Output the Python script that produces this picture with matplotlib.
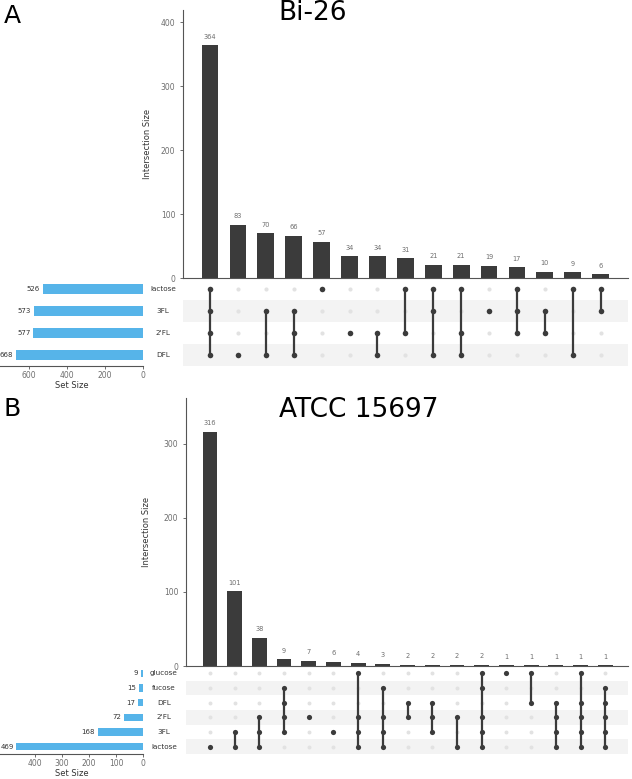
import matplotlib

matplotlib.use("Agg")
import matplotlib.pyplot as plt

W, H = 632, 779

# panel A (Bi-26)
a_sets = ["lactose", "3FL", "2'FL", "DFL"]
a_set_sizes = [526, 573, 577, 668]
a_counts = [364, 83, 70, 66, 57, 34, 34, 31, 21, 21, 19, 17, 10, 9, 6]
a_members = [
    ["lactose", "3FL", "2'FL", "DFL"],
    ["DFL"],
    ["3FL", "DFL"],
    ["3FL", "2'FL", "DFL"],
    ["lactose"],
    ["2'FL"],
    ["2'FL", "DFL"],
    ["lactose", "2'FL"],
    ["lactose", "3FL", "DFL"],
    ["lactose", "2'FL", "DFL"],
    ["3FL"],
    ["lactose", "3FL", "2'FL"],
    ["3FL", "2'FL"],
    ["lactose", "DFL"],
    ["lactose", "3FL"],
]

# panel B (ATCC 15697)
b_sets = ["glucose", "fucose", "DFL", "2'FL", "3FL", "lactose"]
b_set_sizes = [9, 15, 17, 72, 168, 469]
b_counts = [316, 101, 38, 9, 7, 6, 4, 3, 2, 2, 2, 2, 1, 1, 1, 1, 1]
b_members = [
    ["lactose"],
    ["3FL", "lactose"],
    ["2'FL", "3FL", "lactose"],
    ["fucose", "DFL", "2'FL", "3FL"],
    ["2'FL"],
    ["3FL"],
    ["glucose", "2'FL", "3FL", "lactose"],
    ["fucose", "2'FL", "3FL", "lactose"],
    ["DFL", "2'FL"],
    ["DFL", "2'FL", "3FL"],
    ["2'FL", "lactose"],
    ["glucose", "fucose", "2'FL", "3FL", "lactose"],
    ["glucose"],
    ["glucose", "DFL"],
    ["DFL", "2'FL", "3FL", "lactose"],
    ["glucose", "DFL", "2'FL", "3FL", "lactose"],
    ["fucose", "DFL", "2'FL", "3FL", "lactose"],
]

BAR = "#3b3b3b"
BLUE = "#56b4e9"
GREY_TXT = "#6e6e6e"
SPINE = "#555555"
SHADE = "#f3f3f3"
OFF = "#e2e2e2"


def px_axes(fig, x0, y0, x1, y1):
    return fig.add_axes([x0 / W, 1 - y1 / H, (x1 - x0) / W, (y1 - y0) / H])


def style_axis(ax):
    for side in ("top", "right"):
        ax.spines[side].set_visible(False)
    for side in ("left", "bottom"):
        ax.spines[side].set_color(SPINE)
        ax.spines[side].set_linewidth(0.8)
    ax.tick_params(colors=SPINE, labelcolor=GREY_TXT, labelsize=5.5, length=2, width=0.6)


def draw_upset(fig, sets, set_sizes, counts, members, box, opts):
    bar_x0, bar_y0, bar_x1, bar_y1, mat_y1, size_x1 = box
    n = len(counts)
    xs = list(range(n))
    xlim = opts["xlim"]

    # intersection size bars
    ax_bar = px_axes(fig, bar_x0, bar_y0, bar_x1, bar_y1)
    ax_bar.bar(xs, counts, width=0.6, color=BAR)
    for x, c in zip(xs, counts):
        ax_bar.annotate(str(c), (x, c), xytext=(0, 4), textcoords="offset points",
                        ha="center", va="bottom", fontsize=4.8, color=GREY_TXT)
    ax_bar.set_xlim(*xlim)
    ax_bar.set_ylim(0, opts["ymax"])
    ax_bar.set_yticks(opts["yticks"])
    ax_bar.set_xticks([])
    style_axis(ax_bar)
    ax_bar.set_ylabel("Intersection Size", fontsize=6, color="#333333", labelpad=opts["ylabelpad"])

    # membership matrix
    ax_mat = px_axes(fig, bar_x0, bar_y1, bar_x1, mat_y1)
    nrows = len(sets)
    for r in range(nrows):
        if r % 2 == 1:
            ax_mat.axhspan(r - 0.5, r + 0.5, color=SHADE, lw=0, zorder=0)
    for x, mem in zip(xs, members):
        rows = [sets.index(m) for m in mem]
        off = [r for r in range(nrows) if r not in rows]
        ax_mat.scatter([x] * len(off), off, s=opts["s_off"], color=OFF, lw=0, zorder=2)
        if len(rows) > 1:
            ax_mat.plot([x, x], [min(rows), max(rows)], color=BAR, lw=1.6, zorder=3)
        ax_mat.scatter([x] * len(rows), rows, s=opts["s_on"], color=BAR, lw=0, zorder=4)
    ax_mat.set_xlim(*xlim)
    ax_mat.set_ylim(nrows - 0.5, -0.5)
    ax_mat.axis("off")
    tr = ax_mat.get_yaxis_transform()
    for r, name in enumerate(sets):
        ax_mat.text(opts["label_x"], r, name, transform=tr, ha="center", va="center",
                    fontsize=5.2, color="#333333")

    # set size bars
    ax_size = px_axes(fig, 0, bar_y1, size_x1, mat_y1)
    ax_size.barh(list(range(nrows)), set_sizes, height=opts["size_h"], color=BLUE)
    for r, v in enumerate(set_sizes):
        ax_size.annotate(str(v), (v, r), xytext=(-2, 0), textcoords="offset points",
                         ha="right", va="center", fontsize=5, color="#333333")
    ax_size.set_xlim(opts["size_xmax"], 0)
    ax_size.set_ylim(nrows - 0.5, -0.5)
    ax_size.set_xticks(opts["size_ticks"])
    ax_size.set_yticks([])
    style_axis(ax_size)
    ax_size.spines["left"].set_visible(False)
    ax_size.tick_params(axis="x", pad=1.5)
    ax_size.set_xlabel("Set Size", fontsize=6, color="#333333", labelpad=opts["sizepad"])
    return ax_bar


fig = plt.figure(figsize=(W / 100, H / 100), dpi=100)

draw_upset(
    fig, a_sets, a_set_sizes, a_counts, a_members,
    (183, 10, 628, 278, 366, 143),
    {
        "xlim": (-0.97, 14.98), "ymax": 419, "yticks": [0, 100, 200, 300, 400],
        "ylabelpad": 6, "s_off": 9, "s_on": 16, "size_h": 0.45,
        "label_x": -0.045, "size_xmax": 752, "size_ticks": [600, 400, 200, 0],
        "sizepad": 0.5,
    },
)
draw_upset(
    fig, b_sets, b_set_sizes, b_counts, b_members,
    (186, 398, 628, 666, 754, 143),
    {
        "xlim": (-0.97, 16.92), "ymax": 362, "yticks": [0, 100, 200, 300],
        "ylabelpad": 9, "s_off": 8, "s_on": 14, "size_h": 0.52,
        "label_x": -0.05, "size_xmax": 530, "size_ticks": [400, 300, 200, 100, 0],
        "sizepad": 1,
    },
)

fig.text(313 / W, 1 - 13 / H, "Bi-26", ha="center", va="center", fontsize=19, family="DejaVu Sans")
fig.text(359 / W, 1 - 410 / H, "ATCC 15697", ha="center", va="center", fontsize=19,
         family="DejaVu Sans")
fig.text(4 / W, 1 - 16 / H, "A", ha="left", va="center", fontsize=18, family="DejaVu Sans")
fig.text(4 / W, 1 - 409 / H, "B", ha="left", va="center", fontsize=18, family="DejaVu Sans")

fig.savefig("out.png", dpi=100)
